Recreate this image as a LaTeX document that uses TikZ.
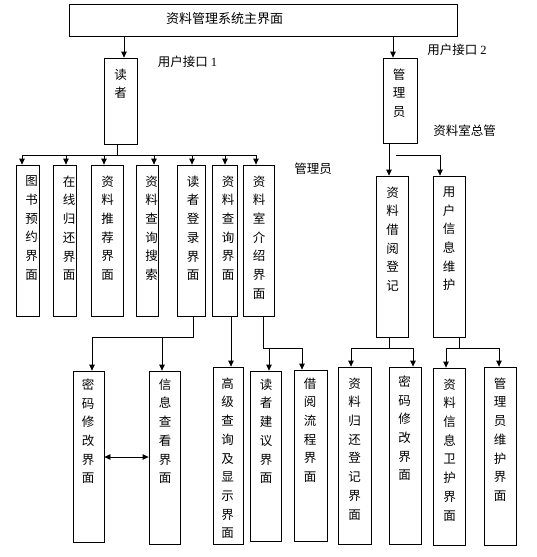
\documentclass[tikz,border=0pt]{standalone}
\usepackage{fontspec}
\setmainfont{Liberation Serif}
\newfontfamily\cjk{Noto Sans CJK SC}
\usetikzlibrary{arrows.meta,fit}
\begin{document}
\begin{tikzpicture}[x=1pt,y=-1pt,
  box/.style={draw, line width=0.8pt, inner sep=0pt},
  vt/.style={font=\cjk\fontsize{12.5}{18.7}\selectfont, align=center, anchor=north, inner sep=0pt, yshift=-2pt},
  lbl/.style={font=\fontsize{12.5}{15}\selectfont, inner sep=0pt},
  ln/.style={line width=0.8pt},
  arr/.style={line width=0.8pt, -{Triangle[length=6pt,width=5.5pt]}},
  darr/.style={line width=0.8pt, {Triangle[length=6pt,width=5.5pt]}-{Triangle[length=6pt,width=5.5pt]}}]
\useasboundingbox (0,0) rectangle (536,557);
% main
\node[box, fit={(69,4) (457,36)}] (main) {};
\node[lbl, font=\cjk\fontsize{13}{15}\selectfont] (maint) at (224.5,19) {资料管理系统主界面};
% second level
\node[box, fit={(104,58) (137,144)}] (reader) {};
\node[vt] (readert) at (120.5,66.5) {读\\者};
\node[box, fit={(383,58) (417,143)}] (admin) {};
\node[vt] (admint) at (399,66.5) {管\\理\\员};
\node[lbl] (l1) at (187.5,62) {{\cjk 用户接口} 1};
\node[lbl] (l2) at (457,50) {{\cjk 用户接口} 2};
\node[lbl, font=\cjk\fontsize{12.5}{15}\selectfont] (l3) at (464.5,131) {资料室总管};
\node[lbl, font=\cjk\fontsize{12.5}{15}\selectfont] (l4) at (313,169) {管理员};
% reader row
\node[box, fit={(16,165) (39,316)}] (r1) {};
\node[vt] (r1t) at (31.5,173.5) {图\\书\\预\\约\\界\\面};
\node[box, fit={(53,165) (76,316)}] (r2) {};
\node[vt] (r2t) at (69,173.5) {在\\线\\归\\还\\界\\面};
\node[box, fit={(91,165) (123,316)}] (r3) {};
\node[vt] (r3t) at (107.5,173.5) {资\\料\\推\\荐\\界\\面};
\node[box, fit={(136,165) (158,316)}] (r4) {};
\node[vt] (r4t) at (151.5,173.5) {资\\料\\查\\询\\搜\\索};
\node[box, fit={(177,165) (205,316)}] (r5) {};
\node[vt] (r5t) at (193,173.5) {读\\者\\登\\录\\界\\面};
\node[box, fit={(212,165) (237,316)}] (r6) {};
\node[vt] (r6t) at (228,173.5) {资\\料\\查\\询\\界\\面};
\node[box, fit={(243,165) (274,316)}] (r7) {};
\node[vt] (r7t) at (259,173.5) {资\\料\\室\\介\\绍\\界\\面};
% admin row
\node[box, fit={(376,176) (408,337)}] (b1) {};
\node[vt] (b1t) at (392.5,184.5) {资\\料\\借\\阅\\登\\记};
\node[box, fit={(433,176) (465,337)}] (b2) {};
\node[vt] (b2t) at (449,184.5) {用\\户\\信\\息\\维\\护};
% bottom row
\node[box, fit={(73,371) (104,542)}] (c1) {};
\node[vt] (c1t) at (88,376.5) {密\\码\\修\\改\\界\\面};
\node[box, fit={(149,371) (180,544)}] (c2) {};
\node[vt] (c2t) at (165,376.5) {信\\息\\查\\看\\界\\面};
\node[box, fit={(213,367) (243,544)}] (c3) {};
\node[vt] (c3t) at (227.5,375.5) {高\\级\\查\\询\\及\\显\\示\\界\\面};
\node[box, fit={(250,371) (281,541)}] (c4) {};
\node[vt] (c4t) at (266,376.5) {读\\者\\建\\议\\界\\面};
\node[box, fit={(294,370) (327,541)}] (c5) {};
\node[vt] (c5t) at (310,375.5) {借\\阅\\流\\程\\界\\面};
\node[box, fit={(338,367) (371,544)}] (c6) {};
\node[vt] (c6t) at (354.5,375.5) {资\\料\\归\\还\\登\\记\\界\\面};
\node[box, fit={(389,367) (421,544)}] (c7) {};
\node[vt] (c7t) at (404.5,373.5) {密\\码\\修\\改\\界\\面};
\node[box, fit={(433,368) (465,545)}] (c8) {};
\node[vt] (c8t) at (449.5,376.5) {资\\料\\信\\息\\卫\\护\\界\\面};
\node[box, fit={(484,367) (516,545)}] (c9) {};
\node[vt] (c9t) at (500,375.5) {管\\理\\员\\维\\护\\界\\面};
% connectors: top
\draw[arr] (main.south -| 124,0) -- (reader.north -| 124,0);
\draw[arr] (main.south -| 393,0) -- (admin.north -| 393,0);
% reader bus
\coordinate (rbus) at (117,155);
\draw[ln] (reader.south -| rbus) -- (rbus);
\draw[ln] (22,155) -- (256,155);
\draw[arr] (rbus -| 22,0) -- (r1.north -| 22,0);
\draw[arr] (rbus -| 66,0) -- (r2.north -| 66,0);
\draw[arr] (rbus -| 104,0) -- (r3.north -| 104,0);
\draw[arr] (rbus -| 154,0) -- (r4.north -| 154,0);
\draw[arr] (rbus -| 192,0) -- (r5.north -| 192,0);
\draw[arr] (rbus -| 225,0) -- (r6.north -| 225,0);
\draw[arr] (rbus -| 256,0) -- (r7.north -| 256,0);
% admin branches
\draw[arr] (admin.south -| 389,0) -- (b1.north -| 389,0);
\coordinate (abus) at (396,155);
\draw[arr] (abus) -| (b2.north -| 440,0);
% reader login -> c1, c2
\coordinate (j1) at (193,337);
\draw[ln] (r5.south -| j1) -- (j1) -- (92,337);
\draw[arr] (92,337) -- (c1.north -| 92,0);
\draw[arr] (j1 -| 162,0) -- (c2.north -| 162,0);
% query -> c3
\draw[arr] (r6.south -| 231,0) -- (c3.north -| 231,0);
% intro -> c4, c5
\coordinate (j2) at (263,348);
\draw[ln] (r7.south -| j2) -- (j2) -- (302,348);
\draw[arr] (j2 -| 269,0) -- (c4.north -| 269,0);
\draw[arr] (302,348) -- (c5.north -| 302,0);
% b1 -> c6, c7
\coordinate (j3) at (389,348);
\draw[ln] (b1.south -| j3) -- (j3);
\draw[ln] (351,348) -- (413,348);
\draw[arr] (351,348) -- (c6.north -| 351,0);
\draw[arr] (413,348) -- (c7.north -| 413,0);
% b2 -> c8, c9
\coordinate (j4) at (459,348);
\draw[ln] (b2.south -| j4) -- (j4);
\draw[ln] (446,348) -- (499,348);
\draw[arr] (446,348) -- (c8.north -| 446,0);
\draw[arr] (499,348) -- (c9.north -| 499,0);
% double arrow
\draw[darr] (c1.east |- 0,457) -- (c2.west |- 0,457);
\end{tikzpicture}
\end{document}
